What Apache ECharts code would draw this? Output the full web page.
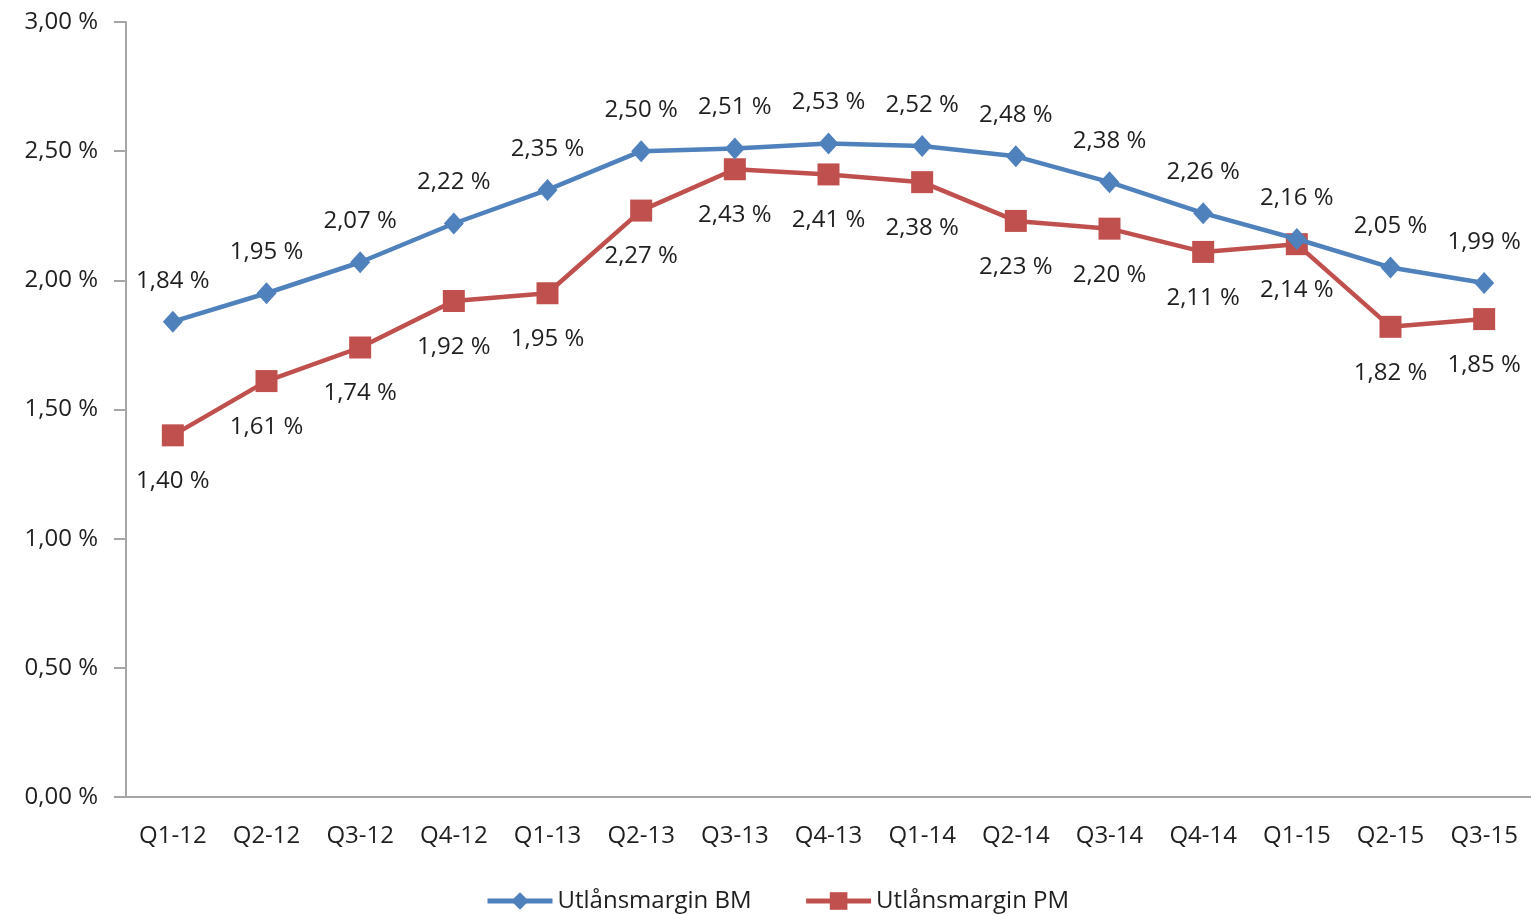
<!DOCTYPE html>
<html>
<head>
<meta charset="utf-8">
<script src="https://cdn.jsdelivr.net/npm/echarts@6/dist/echarts.min.js"></script>
<style>
html,body{margin:0;padding:0;background:#fff;}
#chart{width:1531px;height:916px;}
</style>
</head>
<body>
<div id="chart"></div>
<script>
const categories = ['Q1-12','Q2-12','Q3-12','Q4-12','Q1-13','Q2-13','Q3-13','Q4-13','Q1-14','Q2-14','Q3-14','Q4-14','Q1-15','Q2-15','Q3-15'];
const bmValues = [1.84,1.95,2.07,2.22,2.35,2.50,2.51,2.53,2.52,2.48,2.38,2.26,2.16,2.05,1.99];
const pmValues = [1.40,1.61,1.74,1.92,1.95,2.27,2.43,2.41,2.38,2.23,2.20,2.11,2.14,1.82,1.85];
const seriesNames = ['Utlånsmargin BM','Utlånsmargin PM'];

const fmt = v => v.toFixed(2).replace('.', ',') + ' %';
const FONT = '"Open Sans", sans-serif';
const TXT = '#1f1f1f';
const FS = 24;

const chart = echarts.init(document.getElementById('chart'));
chart.setOption({
  animation: false,
  backgroundColor: '#fff',
  grid: { left: 126, right: 0, top: 22, bottom: 119, containLabel: false },
  legend: {
    left: 480, top: 884,
    itemWidth: 65, itemHeight: 22, itemGap: 52,
    lineStyle: { width: 5 },
    textStyle: { fontFamily: FONT, fontSize: FS, color: TXT },
    data: seriesNames
  },
  xAxis: {
    type: 'category',
    data: categories,
    boundaryGap: true,
    axisLine: { lineStyle: { color: '#a6a6a6', width: 2 } },
    axisTick: { show: false },
    axisLabel: { fontFamily: FONT, fontSize: FS, color: TXT, margin: 27 },
    splitLine: { show: false }
  },
  yAxis: {
    type: 'value',
    min: 0, max: 3, interval: 0.5,
    axisLine: { show: true, lineStyle: { color: '#a6a6a6', width: 2 } },
    axisTick: { show: true, length: 12, lineStyle: { color: '#a6a6a6', width: 2 } },
    axisLabel: { fontFamily: FONT, fontSize: FS, color: TXT, margin: 28, formatter: v => fmt(v) },
    splitLine: { show: false }
  },
  series: [
    {
      name: seriesNames[0],
      type: 'line',
      data: bmValues,
      symbol: 'diamond',
      symbolSize: [20, 22],
      color: '#4F81BD',
      lineStyle: { width: 4.5, color: '#4F81BD' },
      itemStyle: { color: '#4F81BD' },
      label: {
        show: true, position: 'top', distance: 18,
        fontFamily: FONT, fontSize: FS, color: TXT,
        formatter: p => fmt(p.value)
      },
      z: 3
    },
    {
      name: seriesNames[1],
      type: 'line',
      data: pmValues,
      symbol: 'rect',
      symbolSize: 22,
      color: '#C0504D',
      lineStyle: { width: 4.5, color: '#C0504D' },
      itemStyle: { color: '#C0504D' },
      label: {
        show: true, position: 'bottom', distance: 23,
        fontFamily: FONT, fontSize: FS, color: TXT,
        formatter: p => fmt(p.value)
      },
      z: 2
    }
  ]
});
</script>
</body>
</html>
